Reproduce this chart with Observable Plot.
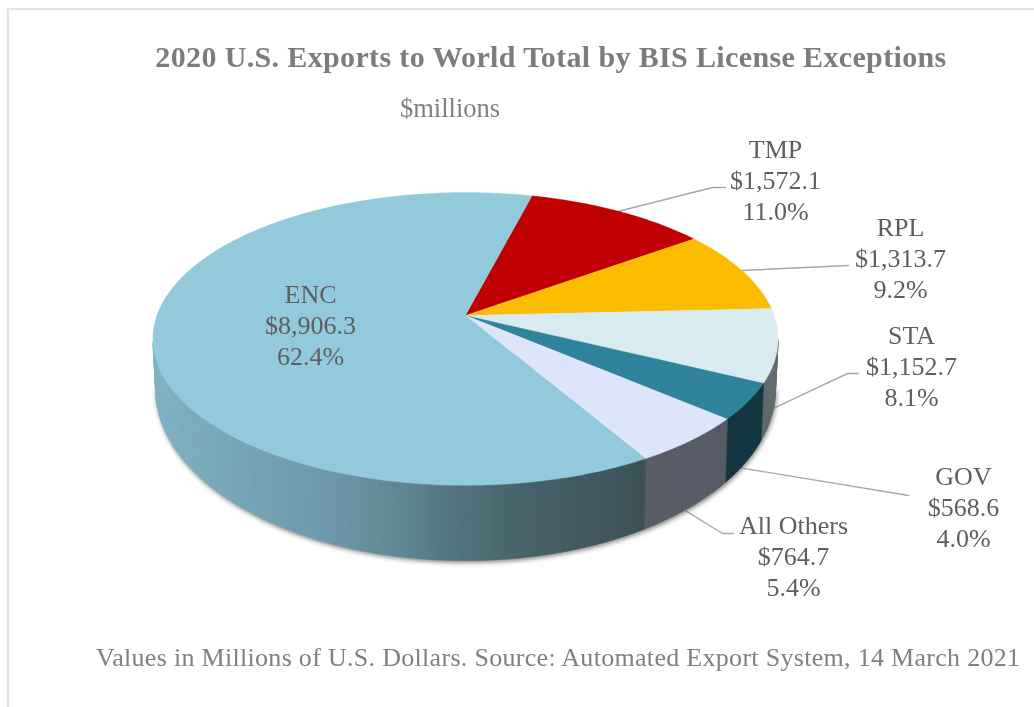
<!DOCTYPE html>
<html><head><meta charset="utf-8">
<script src="https://cdn.jsdelivr.net/npm/d3@7"></script>
<script src="https://cdn.jsdelivr.net/npm/@observablehq/plot@0.6"></script>
<style>
html,body{margin:0;padding:0;background:#fff;overflow:hidden}
#page{position:relative;width:1034px;height:707px;font-family:"Liberation Serif",serif}
#frame{position:absolute;left:7px;top:8px;right:0;bottom:0;border-left:2px solid #e4e4e4;border-top:2px solid #e4e4e4}
.t{position:absolute;white-space:nowrap;line-height:1;filter:blur(.4px)}
#title{left:0;width:1102px;text-align:center;top:42px;font-size:30px;font-weight:bold;color:#7c7c7c;letter-spacing:.36px}
#sub{left:400px;top:95px;font-size:26.5px;color:#808080}
#cap{left:96px;top:645px;font-size:26px;color:#808080;letter-spacing:.3px}
#chart{position:absolute;left:0;top:125px}
.shadow{filter:blur(2.5px)}
.soft{filter:blur(.4px)}
</style></head>
<body><div id="page"><div id="frame"></div>
<div class="t" id="title">2020 U.S. Exports to World Total by BIS License Exceptions</div>
<div class="t" id="sub">$millions</div>
<div id="chart"></div>
<div class="t" id="cap">Values in Millions of U.S. Dollars. Source: Automated Export System, 14 March 2021</div>
</div>
<script>
const names = ["TMP","RPL","STA","GOV","All Others","ENC"];
const values = [1572.1,1313.7,1152.7,568.6,764.7,8906.3];
const topColors = ["#c00000","#fbbc00","#d8ebf1","#2f839b","#dde6f8","#92cadb"];
const wallStops = [
  [["#c00000"]],[["#fbbc00"]],
  [[250,"#4f5a5d"],[312,"#626c6f"]],
  [["#12353f"]],
  [[170,"#5a5e69"],[260,"#555a66"]],
  [[-312,"#80b2c3"],[-200,"#74a2b3"],[-130,"#6d97a8"],[-60,"#5f8590"],[35,"#4a666e"],[180,"#3b5156"]]
];
// label centres (middle line) and leader bends, in pixels relative to the pie apex
const labelAt = [[310,-136.5],[435,-58.5],[446,49.5],[498,190.5],[328,239.5]];
const encLabelAt = [-155,8.5];
const bends = [[[247,-128],[260,-128]],[[383,-50]],[[382,58],[393,58]],[[443,180]],[[257,218],[268,218]]];
const leaderShift = [0,0,4,2,1];

const startDeg = 14.4, a = 308.6, b = 142.7, k = -0.16;
const total = d3.sum(values);
const fmtV = d3.format("$,.1f"), fmtP = d3.format(".1%");
const rim = deg => { const t = deg*Math.PI/180, u = Math.sin(t), v = -Math.cos(t), d = 1+k*v; return [a*u/d, b*v/d]; };
const base = ([x,y]) => { const f = Math.atan2((y-23.5)/146.5, x/312.6); return [310*Math.cos(f), 73+172*Math.sin(f), Math.sin(f)]; };

let acc = startDeg;
const slices = values.map((v,i)=>{ const s=acc; acc+=v/total*360; return {i,name:names[i],s,e:acc,m:(s+acc)/2,v}; });

const tops=[], walls=[], shadow=[];
for (const sl of slices){
  const n=Math.ceil(sl.e-sl.s), ang=d3.range(n+1).map(j=>sl.s+(sl.e-sl.s)*j/n);
  tops.push({id:sl.i,x:0,y:0,c:topColors[sl.i]});
  ang.forEach(d=>{const [x,y]=rim(d);tops.push({id:sl.i,x,y,c:topColors[sl.i]});});
  const st=wallStops[sl.i];
  const ramp = st[0].length===1 ? ()=>st[0][0] : d3.scaleLinear().domain(st.map(d=>d[0])).range(st.map(d=>d[1])).clamp(true);
  for(let j=0;j<n;j++){
    const p=rim(ang[j]), q=rim(ang[j+1]);
    if(p[1]<27&&q[1]<27) continue;
    const bp=base(p), bq=base(q), id=sl.i+"-"+j, c=ramp((p[0]+q[0])/2);
    [p,q,bq,bp].forEach(r=>walls.push({id,x:r[0],y:r[1],c}));
  }
}
d3.range(0,181,3).forEach(deg=>{const f=deg*Math.PI/180;shadow.push({x:310*Math.cos(f)+1,y:75+172*Math.sin(f)});});
shadow.push({x:310,y:40},{x:-309,y:40});

const leaders=[];
slices.slice(0,5).forEach((sl,i)=>{
  const r=rim(sl.m+leaderShift[i]), st = r[1]>27 ? base(r) : r;
  [[st[0],st[1]],...bends[i]].forEach(p=>leaders.push({id:i,x:p[0],y:p[1]}));
});
const text = (sl)=>`${sl.name}\n${fmtV(sl.v)}\n${fmtP(sl.v/total)}`;
const labels = slices.map((sl,i)=>{const p=i<5?labelAt[i]:encLabelAt;return {x:p[0],y:p[1],t:text(sl)};});

const chart = Plot.plot({
  width:1034,height:480,margin:0,
  x:{domain:[-465,569],range:[0,1034],axis:null},
  y:{domain:[-190,290],range:[0,480],axis:null},
  color:{type:"identity"},
  marks:[
    Plot.line(leaders,{x:"x",y:"y",z:"id",stroke:"#a8a8a8",strokeWidth:1.4,curve:"linear"}),
    Plot.line(shadow,{x:"x",y:"y",fill:"#777",stroke:null,curve:"linear-closed",className:"shadow"}),
    Plot.line(walls,{x:"x",y:"y",z:"id",fill:"c",stroke:"c",strokeWidth:.7,curve:"linear-closed"}),
    Plot.line(tops,{x:"x",y:"y",z:"id",fill:"c",stroke:"c",strokeWidth:.3,curve:"linear-closed"}),
    Plot.text(labels,{x:"x",y:"y",text:"t",fontSize:26,lineHeight:1.19,fill:"#5e5e5e",fontFamily:"Liberation Serif",textAnchor:"middle",lineAnchor:"middle",className:"soft"})
  ]
});
document.getElementById("chart").appendChild(chart);
</script></body></html>
